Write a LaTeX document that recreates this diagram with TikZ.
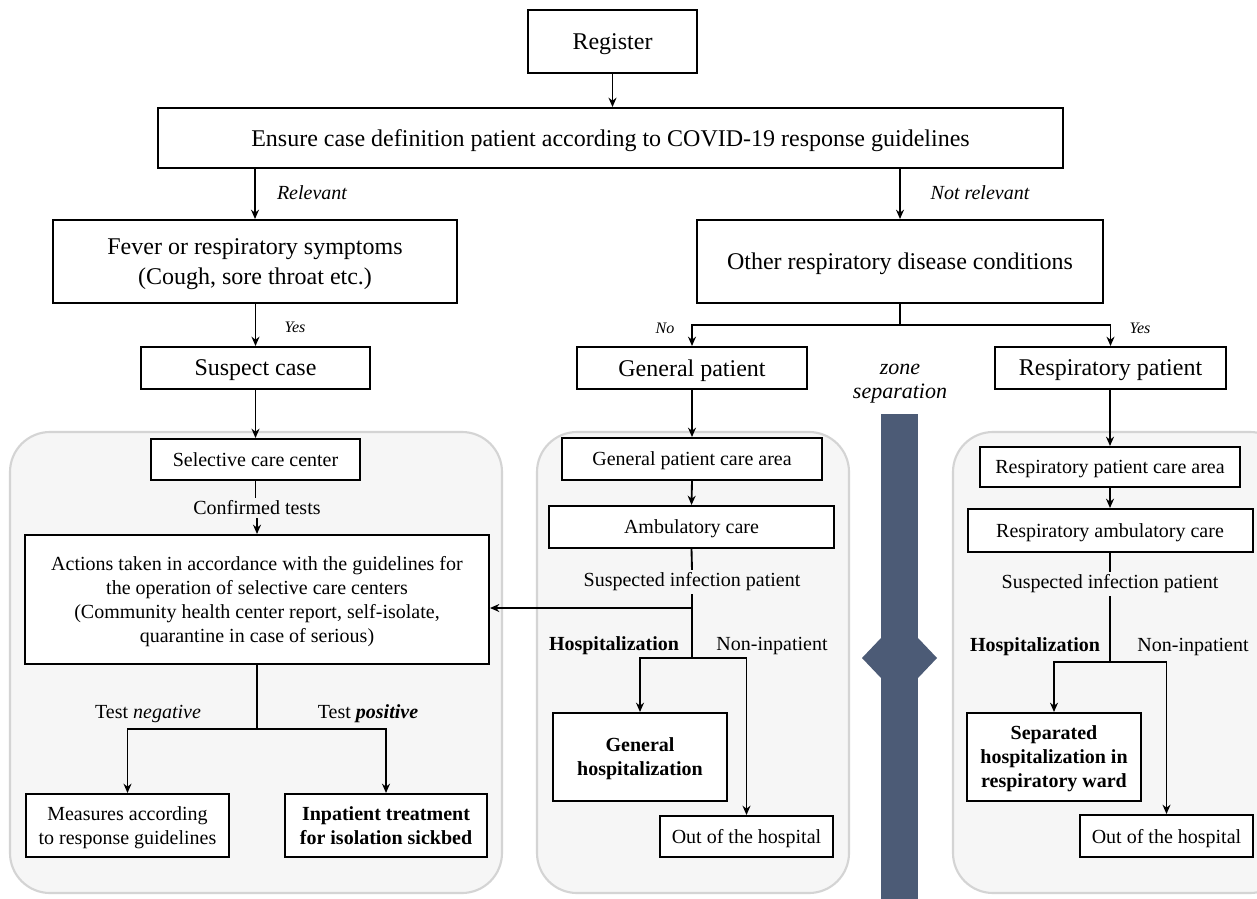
\documentclass[tikz,border=0pt]{standalone}
\usepackage{fontspec}
\setmainfont{Liberation Serif}
\usetikzlibrary{arrows.meta,calc}
\definecolor{barc}{RGB}{76,91,118}
\definecolor{panelfill}{RGB}{246,246,246}
\definecolor{paneldraw}{RGB}{212,212,212}
\begin{document}
\begin{tikzpicture}[x=0.75pt,y=-0.75pt,
  box/.style={draw, line width=1.5pt, fill=white, inner sep=0pt, align=center, text depth=0pt},
  bx/.style 2 args={minimum width=#1*0.75pt, minimum height=#2*0.75pt},
  panel/.style={draw=paneldraw, line width=1.6pt, fill=panelfill, rounded corners=30pt},
  arr/.style={line width=1.4pt, -{Stealth[length=7pt,width=6pt]}},
  ln/.style={line width=1.4pt},
  big/.style={font=\fontsize{18}{22.5}\selectfont},
  med/.style={font=\fontsize{15}{18}\selectfont},
  medb/.style={font=\bfseries\fontsize{15}{18}\selectfont},
  lab/.style={font=\itshape\fontsize{15}{16}\selectfont, inner sep=1pt},
  sm/.style={font=\itshape\fontsize{12}{14}\selectfont, inner sep=1pt},
  tag/.style={inner sep=2pt, align=center}]
\useasboundingbox (0,0) rectangle (1257,899);
\fill[white] (0,0) rectangle (1257,899);
% panels
\draw[panel] (10,432) rectangle (502,893);
\draw[panel] (537,432) rectangle (849,893);
\begin{scope}
\clip (0,0) rectangle (1257,899);
\draw[panel] (953,432) rectangle (1290,893);
\end{scope}
% zone separation bar
\fill[barc] (881,414) rectangle (918,899);
\fill[barc] (862,658) -- (881,638) -- (881,678) -- cycle;
\fill[barc] (918,638) -- (937,658) -- (918,678) -- cycle;
\node[tag, font=\itshape\fontsize{16.5}{18}\selectfont] (zone) at (900,384) {zone\\separation};
% top boxes
\node[box,big,bx={169}{63}] (reg) at (612.5,41.5) {Register};
\node[box,big,bx={905}{60}] (ens) at (610.5,138) {Ensure case definition patient according to COVID-19 response guidelines};
\node[box,big,bx={404}{83}] (fev) at (255,261.5) {Fever or respiratory symptoms\\(Cough, sore throat etc.)};
\node[box,big,bx={406}{83}] (oth) at (900,261.5) {Other respiratory disease conditions};
\node[box,big,bx={229}{42}] (sus) at (255.5,368) {Suspect case};
\node[box,big,bx={230}{42}] (gen) at (692,368) {General patient};
\node[box,big,bx={231}{42}] (resp) at (1110.5,368) {Respiratory patient};
% left panel
\node[box,med,bx={209}{41}] (scc) at (255.5,459.5) {Selective care center};
\node[box,med,bx={464}{129}] (act) at (257,599.5) {Actions taken in accordance with the guidelines for\\the operation of selective care centers\\(Community health center report, self-isolate,\\quarantine in case of serious)};
\node[box,med,bx={203}{63}] (mea) at (127.5,825.5) {Measures according\\to response guidelines};
\node[box,medb,bx={202}{63}] (inp) at (386,825.5) {Inpatient treatment\\for isolation sickbed};
% middle panel
\node[box,med,bx={260}{42}] (gca) at (692,459) {General patient care area};
\node[box,med,bx={285}{42}] (amb) at (691.5,527) {Ambulatory care};
\node[box,medb,bx={174}{88}] (gho) at (640,757) {General\\hospitalization};
\node[box,med,bx={173}{41}] (out1) at (746.5,836.5) {Out of the hospital};
% right panel
\node[box,med,bx={260}{40}] (rca) at (1110,467) {Respiratory patient care area};
\node[box,med,bx={285}{43}] (ramb) at (1110,530.5) {Respiratory ambulatory care};
\node[box,medb,bx={174}{88}] (sep) at (1054,757) {Separated\\hospitalization in\\respiratory ward};
\node[box,med,bx={173}{42}] (out2) at (1166.5,836) {Out of the hospital};
% labels
\node[lab] (lrel) at (312,193) {Relevant};
\node[lab] (lnrel) at (980,193) {Not relevant};
\node[sm] (lyes1) at (295,327) {Yes};
\node[sm] (lno) at (665,328) {No};
\node[sm] (lyes2) at (1140,328) {Yes};
\node[med,tag] (conf) at (257,508) {Confirmed tests};
\node[med,tag] (neg) at (148,714) {Test \textit{negative}};
\node[med,tag] (pos) at (368,714) {Test \textbf{\textit{positive}}};
\node[med,tag] (sip1) at (692,582) {Suspected infection patient};
\node[medb,tag] (hosp1) at (614,646) {Hospitalization};
\node[med,tag] (non1) at (772,646) {Non-inpatient};
\node[med,tag] (sip2) at (1110,584) {Suspected infection patient};
\node[medb,tag] (hosp2) at (1035,647) {Hospitalization};
\node[med,tag] (non2) at (1193,647) {Non-inpatient};
% coordinates
\coordinate (j1) at (900,325);
\coordinate (j2) at (257,729);
\coordinate (j3) at (692,658);
\coordinate (j4) at (692,608);
\coordinate (j5) at (1110,662);
% connectors
\draw[arr] (reg.south) -- (reg.south |- ens.north);
\draw[arr] (fev.north |- ens.south) -- (fev.north);
\draw[arr] (oth.north |- ens.south) -- (oth.north);
\draw[arr] (fev.south -| sus) -- (sus.north);
\draw[ln] (oth.south) -- (j1);
\draw[arr] (j1) -| (gen.north);
\draw[arr] (j1) -| (resp.north);
\draw[arr] (sus.south) -- (scc.north);
\draw[ln] (scc.south) -- (scc.south |- conf.north);
\draw[arr] (conf.south) -- (conf.south |- act.north);
\draw[ln] (act.south) -- (j2);
\draw[arr] (j2) -| (mea.north);
\draw[arr] (j2) -| (inp.north);
\draw[arr] (gen.south) -- (gca.north);
\draw[arr] (gca.south) -- (amb.north);
\draw[ln] (amb.south) -- (sip1.north);
\draw[ln] (sip1.south) -- (j3);
\draw[arr] (j4) -- (j4 -| act.east);
\draw[arr] (j3) -| (gho.north);
\draw[arr] (j3) -| (out1.north);
\draw[arr] (resp.south -| rca.north) -- (rca.north);
\draw[arr] (rca.south) -- (ramb.north);
\draw[ln] (ramb.south) -- (sip2.north);
\draw[ln] (sip2.south) -- (j5);
\draw[arr] (j5) -| (sep.north);
\draw[arr] (j5) -| (out2.north);
\end{tikzpicture}
\end{document}
